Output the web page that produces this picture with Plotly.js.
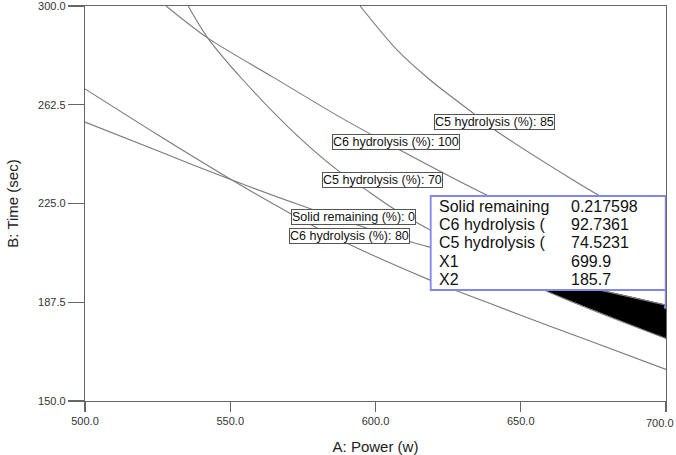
<!DOCTYPE html>
<html>
<head>
<meta charset="utf-8">
<script src="https://cdn.plot.ly/plotly-3.0.1.min.js"></script>
<style>
  html, body { margin: 0; padding: 0; background: #ffffff; }
  #chart { width: 676px; height: 455px; }
</style>
</head>
<body>
<div id="chart"></div>
<script>
// Axis ticks
const powerTicks = [500, 550, 600, 650, 700];
const powerTickText = ["500.0", "550.0", "600.0", "650.0", "700.0"];
const timeTicks = [150, 187.5, 225, 262.5, 300];

// Contour lines of the overlay plot (A: Power, B: Time)
const c6_100_x = [527.9, 542.3, 564.7, 587.8, 608.4, 637.0, 670.0, 700.0];
const c6_100_y = [300.0, 287.8, 273.0, 257.8, 245.3, 228.9, 212.6, 200.4];

const c5_85_x = [594.7, 607.4, 618.8, 633.6, 641.1, 668.0, 675.6, 700.0];
const c5_85_y = [300.0, 283.3, 271.9, 259.3, 252.9, 233.9, 228.9, 214.1];

const c5_70_x = [535.5, 542.3, 554.4, 574.0, 587.8, 595.4, 606.0, 618.8, 658.3, 700.0];
const c5_70_y = [300.0, 287.8, 271.9, 249.8, 236.9, 231.2, 223.2, 214.9, 192.1, 173.8];

const solid_0_x = [500.0, 525.0, 550.6, 574.0, 591.9, 612.6, 618.8, 650.0, 677.3, 700.0];
const solid_0_y = [255.9, 245.0, 233.9, 224.4, 217.5, 210.3, 208.4, 199.4, 192.1, 186.4];

const c6_80_x = [500.0, 525.0, 550.6, 569.9, 590.2, 618.8, 627.4, 650.0, 675.0, 700.0];
const c6_80_y = [268.5, 251.1, 233.9, 221.7, 209.9, 195.9, 192.1, 182.6, 172.3, 162.0];

// Shaded window: below the Solid remaining 0 line, above the C5 70 line
const windowUpperX = [641.0, 650.0, 677.3, 700.0];
const windowUpperY = [202.0, 199.4, 192.1, 186.4];
const windowLowerX = [700.0, 658.3, 641.0];
const windowLowerY = [173.8, 192.1, 202.0];

// Contour labels
const labelText = ["C5 hydrolysis (%): 85", "C6 hydrolysis (%): 100", "C5 hydrolysis (%): 70",
                   "Solid remaining (%): 0", "C6 hydrolysis (%): 80"];
const labelX = [641.0, 607.2, 602.4, 592.4, 590.9];
const labelY = [255.9, 248.3, 234.1, 220.0, 212.6];

// Flagged point and its readout
const flagNames = ["Solid remaining", "C6 hydrolysis (", "C5 hydrolysis (", "X1", "X2"];
const flagValues = ["0.217598", "92.7361", "74.5231", "699.9", "185.7"];
const flagX = 699.9;
const flagY = 185.7;

const lineColor = "#7a7a7a";
const font = "Liberation Sans, Arial, sans-serif";
const tickFont = { family: font, size: 11, color: "#333333" };

function contour(x, y) {
  return {
    x: x, y: y, type: "scatter", mode: "lines",
    line: { color: lineColor, width: 1.1, shape: "spline", smoothing: 0.8 },
    hoverinfo: "skip", showlegend: false
  };
}

const traces = [
  {
    x: windowUpperX.concat(windowLowerX),
    y: windowUpperY.concat(windowLowerY),
    type: "scatter", mode: "lines", fill: "toself",
    fillcolor: "#000000", line: { color: "#000000", width: 1 },
    hoverinfo: "skip", showlegend: false
  },
  contour(c6_100_x, c6_100_y),
  contour(c5_85_x, c5_85_y),
  contour(c5_70_x, c5_70_y),
  contour(solid_0_x, solid_0_y),
  contour(c6_80_x, c6_80_y)
];

const annotations = [];
labelText.forEach(function (t, i) {
  annotations.push({
    x: labelX[i], y: labelY[i], xref: "x", yref: "y",
    text: t, showarrow: false,
    font: { family: font, size: 12.5, color: "#111111" },
    bgcolor: "#ffffff", bordercolor: "#555555", borderwidth: 1, borderpad: 0
  });
});

// Readout rows, placed relative to the flagged point
const rowShift = [100.6, 82.3, 64.0, 45.7, 27.4];
flagNames.forEach(function (n, i) {
  annotations.push({
    x: flagX, y: flagY, xref: "x", yref: "y",
    xanchor: "left", yanchor: "middle", xshift: -229, yshift: rowShift[i],
    text: n, showarrow: false,
    font: { family: font, size: 16, color: "#111111" }
  });
  annotations.push({
    x: flagX, y: flagY, xref: "x", yref: "y",
    xanchor: "left", yanchor: "middle", xshift: -97, yshift: rowShift[i],
    text: flagValues[i], showarrow: false,
    font: { family: font, size: 16, color: "#111111" }
  });
});

// The last power label sits flush with the right edge so it stays whole
const lastTick = powerTicks.length - 1;
annotations.push({
  x: powerTicks[lastTick], xref: "x", xanchor: "right", xshift: 10,
  y: 0, yref: "paper", yanchor: "top", yshift: -14,
  text: powerTickText[lastTick], showarrow: false, font: tickFont
});
const shownPowerText = powerTickText.map(function (t, i) { return i === lastTick ? "" : t; });

const boxColor = "#8585ee";
const shapes = [
  {
    type: "rect", layer: "above",
    xref: "x", xsizemode: "pixel", xanchor: flagX, x0: -235, x1: 0,
    yref: "y", ysizemode: "pixel", yanchor: flagY, y0: 17, y1: 111,
    fillcolor: "#ffffff", line: { color: boxColor, width: 1.8 }
  },
  {
    type: "line", layer: "above",
    xref: "x", xsizemode: "pixel", xanchor: flagX, x0: 0, x1: 0,
    yref: "y", ysizemode: "pixel", yanchor: flagY, y0: 0, y1: 17,
    line: { color: boxColor, width: 1.8 }
  },
  {
    type: "circle", layer: "above",
    xref: "x", xsizemode: "pixel", xanchor: flagX, x0: -2, x1: 2,
    yref: "y", ysizemode: "pixel", yanchor: flagY, y0: -2, y1: 2,
    fillcolor: boxColor, line: { color: boxColor, width: 0 }
  }
];

const axisCommon = {
  showline: true, mirror: true, linecolor: "#666666", linewidth: 1.2,
  showgrid: false, zeroline: false,
  ticks: "outside", tickcolor: "#666666", tickwidth: 1.2,
  tickfont: tickFont, tickmode: "array",
  ticklabeloverflow: "allow"
};

const layout = {
  width: 676, height: 455,
  margin: { l: 85, r: 10, t: 6, b: 54 },
  paper_bgcolor: "#ffffff", plot_bgcolor: "#ffffff",
  showlegend: false,
  xaxis: Object.assign({}, axisCommon, {
    range: [500, 700], tickvals: powerTicks, ticktext: shownPowerText, ticklen: 10,
    title: { text: "A: Power (w)", font: { family: font, size: 15, color: "#222222" }, standoff: 16 }
  }),
  yaxis: Object.assign({}, axisCommon, {
    range: [150, 300], tickvals: timeTicks, tickformat: ".1f", ticklen: 16,
    title: { text: "B: Time (sec)", font: { family: font, size: 15, color: "#222222" }, standoff: 15 }
  }),
  annotations: annotations,
  shapes: shapes
};

Plotly.newPlot("chart", traces, layout, { staticPlot: true, displayModeBar: false });
</script>
</body>
</html>
